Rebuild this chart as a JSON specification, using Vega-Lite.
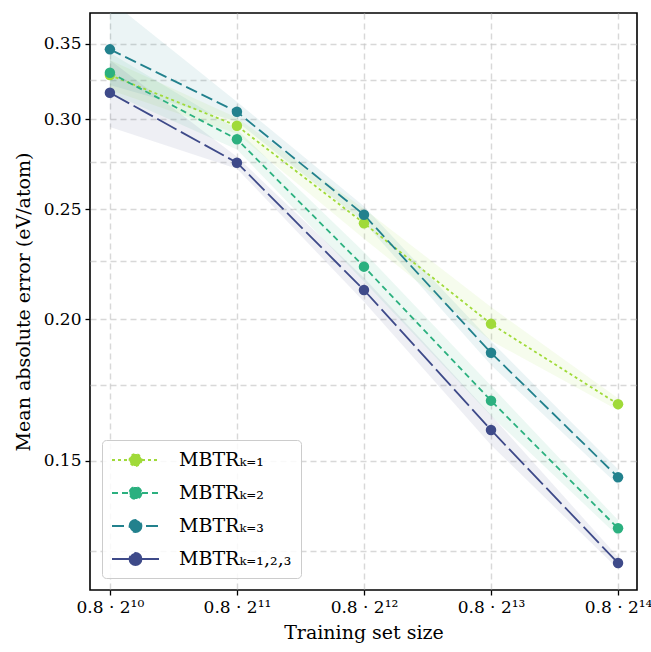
{
  "$schema": "https://vega.github.io/schema/vega-lite/v6.json",
  "width": 547,
  "height": 577,
  "autosize": {"type": "none"},
  "padding": {"left": 90, "top": 13, "right": 14, "bottom": 62},
  "background": "white",
  "config": {
    "font": "DejaVu Serif",
    "view": {"stroke": "black", "strokeWidth": 1.6},
    "axis": {
      "domain": false,
      "grid": true,
      "gridColor": "#c8c8c8",
      "gridOpacity": 0.7,
      "gridDash": [6, 4],
      "gridWidth": 1.4,
      "tickColor": "black",
      "tickSize": 5,
      "tickWidth": 1.3,
      "labelFontSize": 17,
      "labelColor": "black",
      "labelFont": "DejaVu Serif",
      "titleFont": "DejaVu Serif",
      "titleFontSize": 19,
      "titleFontWeight": "normal",
      "titleColor": "black"
    }
  },
  "data": {
    "values": [
      {"series": "MBTRₖ₌₁", "band": "k1", "size": 819.2, "mae": 0.3283, "lo": 0.3185, "hi": 0.3385},
      {"series": "MBTRₖ₌₁", "band": "k1", "size": 1638.4, "mae": 0.2962, "lo": 0.2915, "hi": 0.3011},
      {"series": "MBTRₖ₌₁", "band": "k1", "size": 3276.8, "mae": 0.2430, "lo": 0.2355, "hi": 0.2503},
      {"series": "MBTRₖ₌₁", "band": "k1", "size": 6553.6, "mae": 0.1981, "lo": 0.1914, "hi": 0.2050},
      {"series": "MBTRₖ₌₁", "band": "k1", "size": 13107.2, "mae": 0.1683, "lo": 0.1662, "hi": 0.1703},
      {"series": "MBTRₖ₌₂", "band": "k2", "size": 819.2, "mae": 0.3299, "lo": 0.3167, "hi": 0.3435},
      {"series": "MBTRₖ₌₂", "band": "k2", "size": 1638.4, "mae": 0.2882, "lo": 0.2823, "hi": 0.2941},
      {"series": "MBTRₖ₌₂", "band": "k2", "size": 3276.8, "mae": 0.2225, "lo": 0.2159, "hi": 0.2292},
      {"series": "MBTRₖ₌₂", "band": "k2", "size": 6553.6, "mae": 0.1695, "lo": 0.1644, "hi": 0.1747},
      {"series": "MBTRₖ₌₂", "band": "k2", "size": 13107.2, "mae": 0.1308, "lo": 0.1287, "hi": 0.1330},
      {"series": "MBTRₖ₌₃", "band": "k3", "size": 819.2, "mae": 0.3459, "lo": 0.3217, "hi": 0.3823},
      {"series": "MBTRₖ₌₃", "band": "k3", "size": 1638.4, "mae": 0.3047, "lo": 0.2987, "hi": 0.3110},
      {"series": "MBTRₖ₌₃", "band": "k3", "size": 3276.8, "mae": 0.2472, "lo": 0.2435, "hi": 0.2515},
      {"series": "MBTRₖ₌₃", "band": "k3", "size": 6553.6, "mae": 0.1868, "lo": 0.1822, "hi": 0.1913},
      {"series": "MBTRₖ₌₃", "band": "k3", "size": 13107.2, "mae": 0.1451, "lo": 0.1428, "hi": 0.1475},
      {"series": "MBTRₖ₌₁,₂,₃", "band": "k123", "size": 819.2, "mae": 0.3167, "lo": 0.2954, "hi": 0.3385},
      {"series": "MBTRₖ₌₁,₂,₃", "band": "k123", "size": 1638.4, "mae": 0.2748, "lo": 0.2715, "hi": 0.2782},
      {"series": "MBTRₖ₌₁,₂,₃", "band": "k123", "size": 3276.8, "mae": 0.2122, "lo": 0.2072, "hi": 0.2175},
      {"series": "MBTRₖ₌₁,₂,₃", "band": "k123", "size": 6553.6, "mae": 0.1597, "lo": 0.1549, "hi": 0.1646},
      {"series": "MBTRₖ₌₁,₂,₃", "band": "k123", "size": 13107.2, "mae": 0.1219, "lo": 0.1204, "hi": 0.1234}
    ]
  },
  "layer": [
    {
      "mark": {"type": "area", "opacity": 0.09, "clip": true},
      "encoding": {
        "x": {"field": "size", "type": "quantitative"},
        "y": {"field": "lo", "type": "quantitative"},
        "y2": {"field": "hi"},
        "fill": {
          "field": "band",
          "type": "nominal",
          "scale": {
            "domain": ["k1", "k2", "k3", "k123"],
            "range": ["#a0da39", "#2bb07f", "#22818d", "#3e4a89"]
          },
          "legend": null
        }
      }
    },
    {
      "mark": {"type": "line", "strokeWidth": 1.8, "clip": true},
      "encoding": {
        "x": {"field": "size", "type": "quantitative"},
        "y": {"field": "mae", "type": "quantitative"},
        "strokeDash": {
          "field": "series",
          "type": "nominal",
          "scale": {
            "domain": ["MBTRₖ₌₁", "MBTRₖ₌₂", "MBTRₖ₌₃", "MBTRₖ₌₁,₂,₃"],
            "range": [[3, 3], [6, 4], [12, 5], [22, 5]]
          },
          "legend": null
        },
        "color": {"field": "series", "type": "nominal"}
      }
    },
    {
      "mark": {"type": "circle", "size": 110, "opacity": 1},
      "encoding": {
        "x": {
          "field": "size",
          "type": "quantitative",
          "scale": {"type": "log", "base": 2, "domain": [734.9, 14536], "nice": false},
          "axis": {
            "values": [819.2, 1638.4, 3276.8, 6553.6, 13107.2],
            "labelExpr": "'0.8 · 2' + (datum.value < 1000 ? '¹⁰' : datum.value < 2000 ? '¹¹' : datum.value < 4000 ? '¹²' : datum.value < 8000 ? '¹³' : '¹⁴')",
            "title": "Training set size",
            "labelFontSize": 17,
            "labelPadding": 4,
            "titlePadding": 8
          }
        },
        "y": {
          "field": "mae",
          "type": "quantitative",
          "scale": {"type": "log", "domain": [0.1154, 0.3724], "nice": false},
          "axis": {
            "values": [0.125, 0.15, 0.175, 0.2, 0.225, 0.25, 0.275, 0.3, 0.325, 0.35],
            "labelExpr": "abs(datum.value*20 - round(datum.value*20)) < 0.01 ? format(datum.value, '.2f') : ''",
            "tickOpacity": {"condition": {"test": "abs(datum.value*20 - round(datum.value*20)) < 0.01", "value": 1}, "value": 0},
            "title": "Mean absolute error (eV/atom)",
            "labelPadding": 4,
            "titlePadding": 10
          }
        },
        "color": {
          "field": "series",
          "type": "nominal",
          "scale": {
            "domain": ["MBTRₖ₌₁", "MBTRₖ₌₂", "MBTRₖ₌₃", "MBTRₖ₌₁,₂,₃"],
            "range": ["#a0da39", "#2bb07f", "#22818d", "#3e4a89"]
          },
          "legend": {
            "title": null,
            "orient": "bottom-left",
            "offset": 12,
            "padding": 9,
            "fillColor": "rgba(255,255,255,0.85)",
            "strokeColor": "#cccccc",
            "cornerRadius": 4,
            "symbolType": "M-1,0L3.7,0M1.95,0A0.6,0.6,0,1,1,0.75,0A0.6,0.6,0,1,1,1.95,0Z",
            "symbolSize": 400,
            "symbolStrokeWidth": 1.8,
            "symbolOpacity": 1,
            "labelFontSize": 19,
            "labelFont": "DejaVu Serif",
            "labelColor": "black",
            "labelOffset": 46,
            "rowPadding": 12,
            "encode": {
              "symbols": {
                "update": {
                  "fill": {"scale": "color", "field": "value"},
                  "stroke": {"scale": "color", "field": "value"},
                  "strokeDash": {"scale": "strokeDash", "field": "value"},
                  "opacity": {"value": 1},
                  "fillOpacity": {"value": 1},
                  "strokeOpacity": {"value": 1}
                }
              }
            }
          }
        }
      }
    }
  ]
}
